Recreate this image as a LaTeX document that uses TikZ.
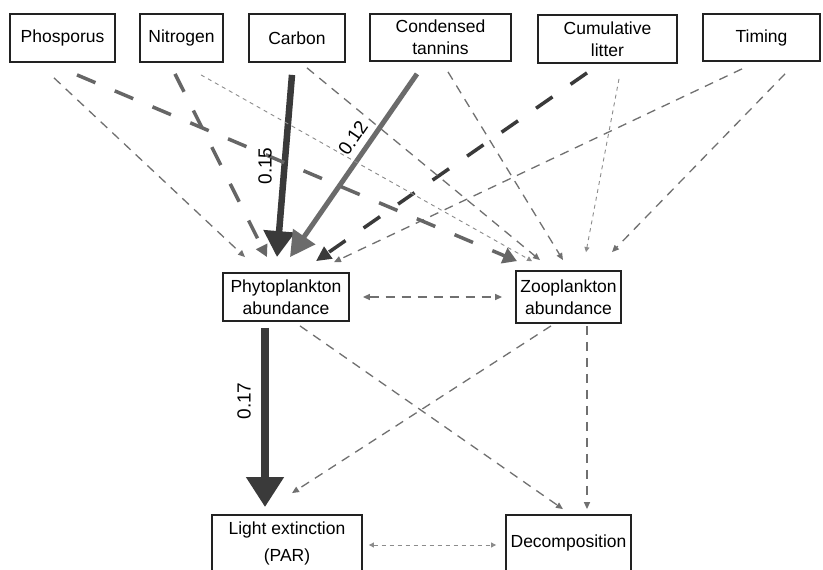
\documentclass[tikz,border=0pt]{standalone}
\usepackage{fontspec}
\setmainfont{Liberation Sans}
\usetikzlibrary{arrows.meta}
\definecolor{boxc}{HTML}{222222}
\definecolor{darkc}{HTML}{3A3A3A}
\definecolor{tanc}{HTML}{6B6B6B}
\definecolor{dashc}{HTML}{707070}
\definecolor{longc}{HTML}{666666}
\definecolor{dotc}{HTML}{8C8C8C}
\begin{document}
\begin{tikzpicture}[x=1pt,y=1pt,
  box/.style={draw=boxc, line width=1.8pt, fill=white, align=center, inner sep=1pt,
    font=\fontsize{17.5}{22}\selectfont, text=black},
  lbl/.style={font=\fontsize{19}{22}\selectfont, text=black, inner sep=0pt},
  mdash/.style={draw=dashc, line width=1.3pt, dash pattern=on 9pt off 7pt,
    -{Triangle[length=7pt,width=6pt]}},
  fdot/.style={draw=dotc, line width=0.9pt, dash pattern=on 4pt off 4pt,
    -{Triangle[length=5pt,width=5pt]}},
  ldash/.style={line width=3.5pt, dash pattern=on 20pt off 21pt}
]
\useasboundingbox (0,0) rectangle (823,-570);
\clip (0,0) rectangle (823,-570);
\fill[white] (0,0) rectangle (823,-570);

% top row
\node[box, minimum width=105pt, minimum height=48pt] (phos) at (62.5,-38) {Phosporus};
\node[box, minimum width=83pt, minimum height=48pt] (nitro) at (181.5,-38) {Nitrogen};
\node[box, minimum width=96pt, minimum height=48pt] (carbon) at (297,-38) {Carbon};
\node[box, minimum width=141pt, minimum height=47pt] (tannins) at (440.5,-37.5) {Condensed\\tannins};
\node[box, minimum width=139pt, minimum height=48pt] (litter) at (607.5,-39) {Cumulative\\litter};
\node[box, minimum width=117pt, minimum height=47pt] (timing) at (761.5,-37.5) {Timing};

% middle row
\node[box, minimum width=126pt, minimum height=48pt] (phyto) at (286,-297) {Phytoplankton\\abundance};
\node[box, minimum width=105pt, minimum height=52pt] (zoo) at (568.5,-297) {Zooplankton\\abundance};

% bottom row
\node[box, minimum width=150pt, minimum height=56pt] (light) at (287,-543) {Light extinction\\[5pt](PAR)};
\node[box, minimum width=125pt, minimum height=56pt] (decomp) at (568.5,-543) {Decomposition};

% top -> phytoplankton
\draw[mdash] ([shift={(-8.5,-15)}]phos.south) -- ([shift={(-41,15)}]phyto.north);
\draw[ldash, draw=longc, -{Triangle[length=12pt,width=12pt]}] ([shift={(-6.5,-11)}]nitro.south) -- ([shift={(-19,15)}]phyto.north);
\draw[draw=darkc, line width=6.5pt, -{Triangle[length=26pt,width=30pt]}] ([shift={(-5,-12)}]carbon.south) -- ([shift={(-9,15)}]phyto.north);
\draw[draw=tanc, line width=5pt, -{Triangle[length=25pt,width=26pt]}] ([shift={(-23.5,-12)}]tannins.south) -- ([shift={(4,15)}]phyto.north);
\draw[ldash, draw=darkc, dash pattern=on 20pt off 22pt, -{Triangle[length=15pt,width=14pt]}] ([shift={(-20.5,-9)}]litter.south) -- ([shift={(30,11)}]phyto.north);
\draw[mdash] ([shift={(-19.5,-7)}]timing.south) -- ([shift={(48,10)}]phyto.north);

% top -> zooplankton
\draw[ldash, draw=longc, -{Triangle[length=14pt,width=16pt]}] ([shift={(14.5,-12)}]phos.south) -- ([shift={(-51.5,9)}]zoo.north);
\draw[fdot] ([shift={(19.5,-12)}]nitro.south) -- ([shift={(-36.5,9)}]zoo.north);
\draw[mdash] ([shift={(10,-5)}]carbon.south) -- ([shift={(-28.5,10)}]zoo.north);
\draw[mdash] ([shift={(7.5,-10)}]tannins.south) -- ([shift={(-5.5,10)}]zoo.north);
\draw[fdot] ([shift={(11.5,-15)}]litter.south) -- ([shift={(17.5,18)}]zoo.north);
\draw[mdash] ([shift={(23.5,-12)}]timing.south) -- ([shift={(43.5,18)}]zoo.north);

% middle
\draw[mdash, {Triangle[length=7pt,width=6pt]}-{Triangle[length=7pt,width=6pt]}, shorten <=13pt, shorten >=13pt] (phyto.east) -- (zoo.west);
\draw[draw=darkc, line width=8pt, -{Triangle[length=30pt,width=36pt]}] ([shift={(-21,-6)}]phyto.south) -- ([shift={(-22,7)}]light.north);
\draw[mdash] ([shift={(14,-4)}]phyto.south) -- ([shift={(-5.5,5)}]decomp.north);
\draw[mdash] ([shift={(-17.5,-2)}]zoo.south) -- ([shift={(5,21)}]light.north);
\draw[mdash] ([shift={(18.5,-2)}]zoo.south) -- ([shift={(18.5,5)}]decomp.north);

% bottom
\draw[fdot, {Triangle[length=5pt,width=5pt]}-{Triangle[length=5pt,width=5pt]}] ([shift={(6,-2)}]light.east) -- ([shift={(-9,-2)}]decomp.west);

% path coefficients
\node[lbl, rotate=90] (l15) at (265,-166) {0.15};
\node[lbl, rotate=55.5] (l12) at (353,-138) {0.12};
\node[lbl, rotate=90] (l17) at (244,-401) {0.17};
\end{tikzpicture}
\end{document}
